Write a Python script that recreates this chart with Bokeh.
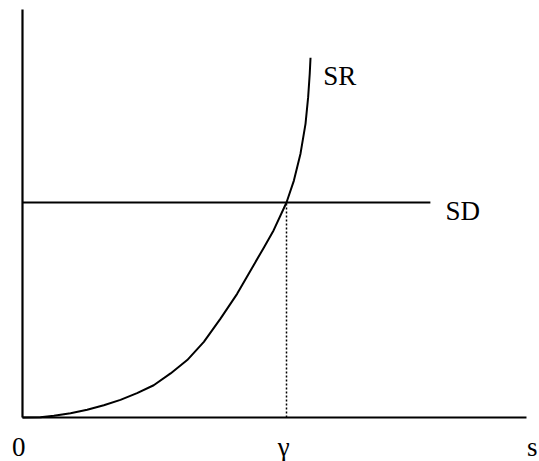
from bokeh.plotting import figure
from bokeh.models import Range1d
from bokeh.core.properties import value
from bokeh.embed import file_html
from bokeh.resources import INLINE

# Data (x in units where gamma = 1, y in units where SD = 1)
sr_x = [0.0, 0.068, 0.119, 0.182, 0.245, 0.308, 0.371, 0.434, 0.497, 0.561, 0.624,
        0.687, 0.75, 0.813, 0.875, 0.914, 0.951, 1.0, 1.028, 1.053, 1.072, 1.082,
        1.088, 1.091]
sr_y = [0.0, 0.001, 0.008, 0.020, 0.036, 0.057, 0.082, 0.113, 0.150, 0.205, 0.267,
        0.352, 0.460, 0.575, 0.707, 0.790, 0.870, 1.0, 1.102, 1.227, 1.366, 1.490,
        1.599, 1.673]
sd_level = 1.0
sd_end = 1.545
gamma = 1.0
x_axis_end = 1.909
y_axis_end = 1.898
labels = ["0", "\u03b3", "s", "SR", "SD"]

FONT = value("Liberation Serif")

p = figure(width=539, height=461, output_backend="svg", toolbar_location=None,
           x_range=Range1d(-0.0833, 1.9583), y_range=Range1d(-0.2047, 1.9395),
           min_border=0, outline_line_color=None, background_fill_color="white",
           border_fill_color="white")
p.axis.visible = False
p.grid.visible = False

# axes
p.line([0, x_axis_end], [0, 0], line_color="black", line_width=2.2)
p.line([0, 0], [0, y_axis_end], line_color="black", line_width=2.2)

# SD line
p.line([0, sd_end], [sd_level, sd_level], line_color="black", line_width=1.8)

# dotted vertical at gamma
p.line([gamma, gamma], [0, sd_level], line_color="black", line_width=1.5, line_dash="2 2")

# SR curve
p.line(sr_x, sr_y, line_color="black", line_width=2, line_join="round")

# labels
p.text(x=[1.139], y=[1.587], text=[labels[3]], text_font=FONT, text_font_size="27px",
       text_align="left", text_baseline="alphabetic", text_color="black")
p.text(x=[1.602], y=[0.960], text=[labels[4]], text_font=FONT, text_font_size="27px",
       text_align="left", text_baseline="alphabetic", text_color="black")
p.text(x=[-0.014], y=[-0.137], text=[labels[0]], text_font=FONT, text_font_size="27px",
       text_align="center", text_baseline="alphabetic", text_color="black")
p.text(x=[0.989], y=[-0.137], text=[labels[1]], text_font=FONT, text_font_size="27px",
       text_align="center", text_baseline="alphabetic", text_color="black")
p.text(x=[1.911], y=[-0.137], text=[labels[2]], text_font=FONT, text_font_size="27px",
       text_align="left", text_baseline="alphabetic", text_color="black")

open("out.html", "w").write(file_html(p, INLINE))
